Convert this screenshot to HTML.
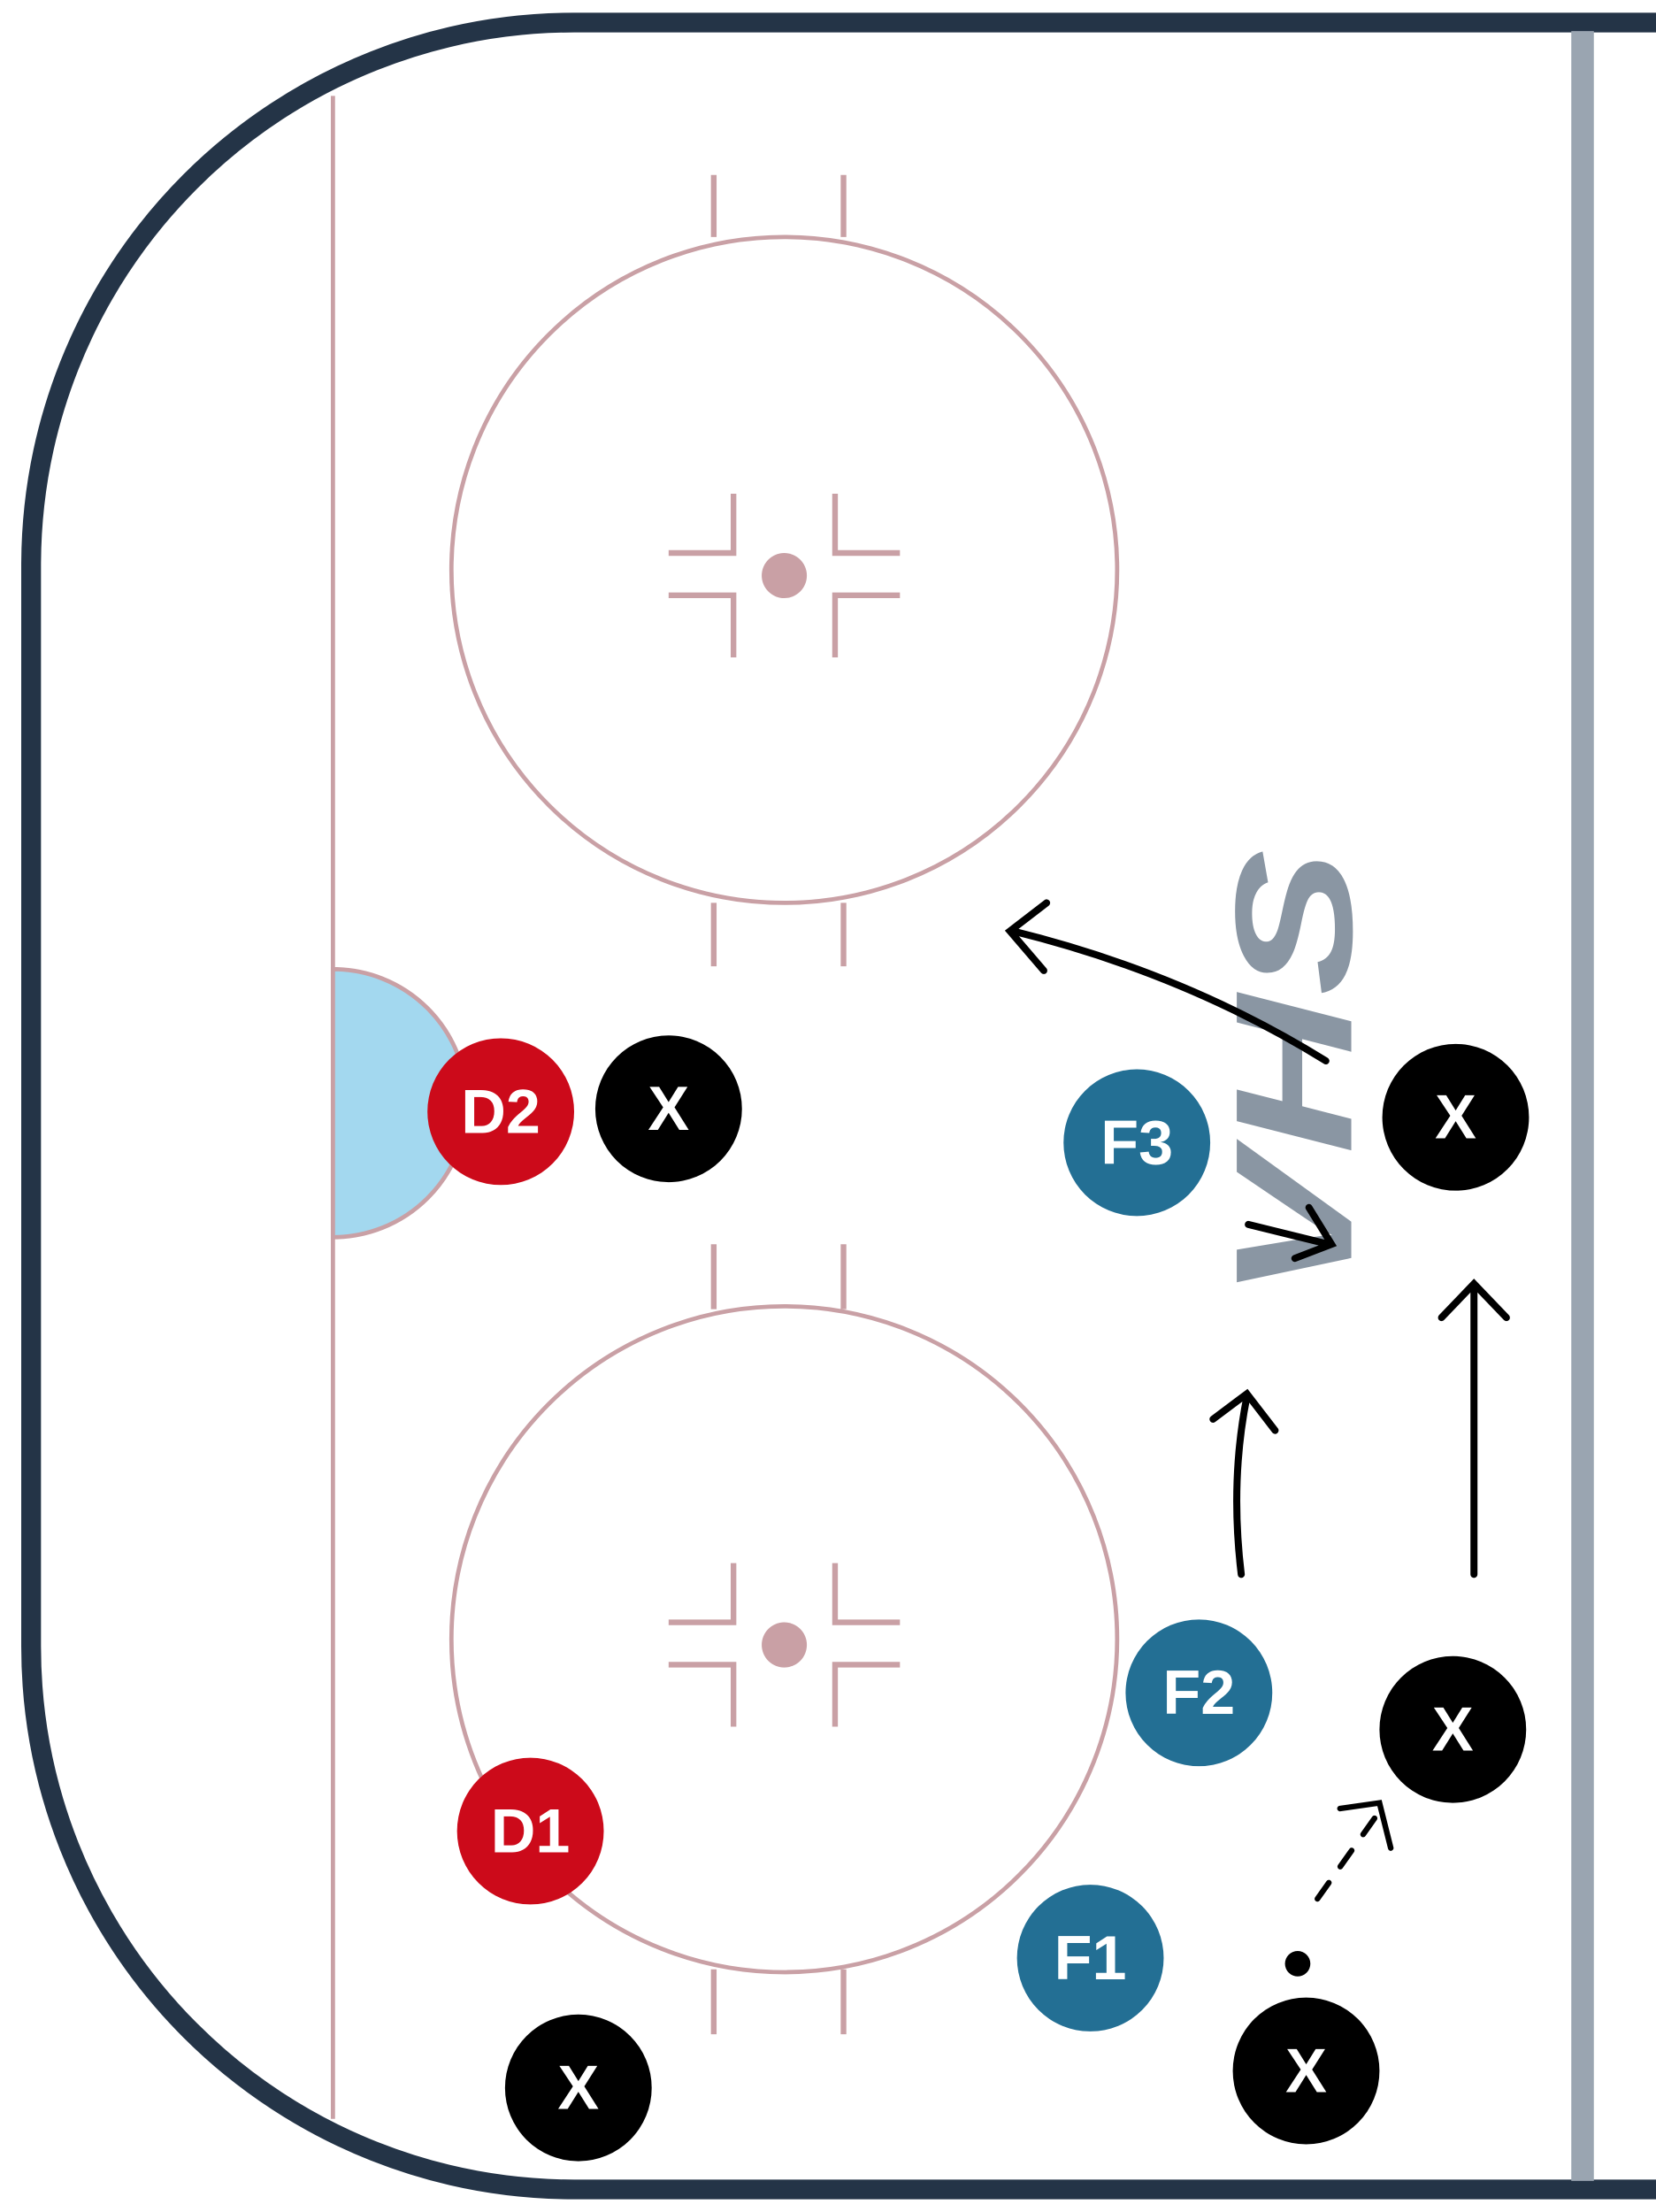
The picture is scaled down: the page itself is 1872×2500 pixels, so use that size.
<!DOCTYPE html>
<html><head><meta charset="utf-8"><style>
html,body{margin:0;padding:0;background:#fff;}
svg{display:block;}
</style></head><body>
<svg width="1872" height="2500" viewBox="0 0 1174 1568" xmlns="http://www.w3.org/2000/svg">
<rect width="1174" height="1568" fill="#fff"/>
<!-- rink boards -->
<rect x="22" y="16" width="2400" height="1536" rx="385" ry="385" fill="#fff" stroke="#243447" stroke-width="14"/>
<!-- goal line -->
<line x1="236" y1="68" x2="236" y2="1502" stroke="#c9a0a5" stroke-width="3"/>
<!-- blue line -->
<line x1="1122" y1="22" x2="1122" y2="1546" stroke="#9aa5b1" stroke-width="16"/>
<!-- crease -->
<path d="M236 687 A95 95 0 0 1 236 877 Z" fill="#a3d8ef" stroke="#c9a0a5" stroke-width="3"/>
<g stroke="#c9a0a5" stroke-width="4" fill="none">
  <circle cx="556" cy="404" r="236" stroke-width="3"/>
  <line x1="506" y1="124" x2="506" y2="168"/><line x1="598" y1="124" x2="598" y2="168"/>
  <line x1="506" y1="640" x2="506" y2="685"/><line x1="598" y1="640" x2="598" y2="685"/>
  <path d="M474 392 H520 V350 M474 422 H520 V466 M638 392 H592 V350 M638 422 H592 V466"/>
  <circle cx="556" cy="1162" r="236" stroke-width="3"/>
  <line x1="506" y1="882" x2="506" y2="928"/><line x1="598" y1="882" x2="598" y2="928"/>
  <line x1="506" y1="1396" x2="506" y2="1442"/><line x1="598" y1="1396" x2="598" y2="1442"/>
  <path d="M474 1150 H520 V1108 M474 1180 H520 V1224 M638 1150 H592 V1108 M638 1180 H592 V1224"/>
</g>
<circle cx="556" cy="408" r="16" fill="#c9a0a5"/>
<circle cx="556" cy="1166" r="16" fill="#c9a0a5"/>
<!-- logo -->
<text x="0" y="0" transform="translate(958,762) rotate(-90)" text-anchor="middle" font-family="Liberation Sans, sans-serif" font-weight="bold" font-style="italic" font-size="118" fill="#8a96a3" textLength="320" lengthAdjust="spacingAndGlyphs">VHS</text>
<!-- arrows -->
<g stroke="#000" stroke-width="5" fill="none" stroke-linecap="round">
  <path d="M940 752 Q840 690 718 660"/>
  <path d="M742 640 L716 660 L740 688"/>
  <path d="M885 868 L942 882"/>
  <path d="M928 856 L944 882 L918 892"/>
  <path d="M880 1116 Q872 1050 884 990"/>
  <path d="M860 1006 L884 988 L904 1014"/>
  <path d="M1045 1116 L1045 912"/>
  <path d="M1022 934 L1045 910 L1068 934"/>
  <path d="M934 1346 L978 1284" stroke-dasharray="14 14" stroke-width="4"/>
  <path d="M950 1282 L978 1278 L986 1310" stroke-width="4"/>
</g>
<circle cx="920" cy="1392" r="9" fill="#000"/>
<!-- players -->
<g font-family="Liberation Sans, sans-serif" font-weight="bold" font-size="44" fill="#fff" text-anchor="middle">
  <circle cx="355" cy="788" r="52" fill="#cc0a1a"/><text x="355" y="803">D2</text>
  <circle cx="474" cy="786" r="52" fill="#000"/><text x="474" y="801">X</text>
  <circle cx="806" cy="810" r="52" fill="#236f94"/><text x="806" y="825">F3</text>
  <circle cx="1032" cy="792" r="52" fill="#000"/><text x="1032" y="807">X</text>
  <circle cx="850" cy="1200" r="52" fill="#236f94"/><text x="850" y="1215">F2</text>
  <circle cx="1030" cy="1226" r="52" fill="#000"/><text x="1030" y="1241">X</text>
  <circle cx="376" cy="1298" r="52" fill="#cc0a1a"/><text x="376" y="1313">D1</text>
  <circle cx="773" cy="1388" r="52" fill="#236f94"/><text x="773" y="1403">F1</text>
  <circle cx="410" cy="1480" r="52" fill="#000"/><text x="410" y="1495">X</text>
  <circle cx="926" cy="1468" r="52" fill="#000"/><text x="926" y="1483">X</text>
</g>
</svg>
</body></html>
